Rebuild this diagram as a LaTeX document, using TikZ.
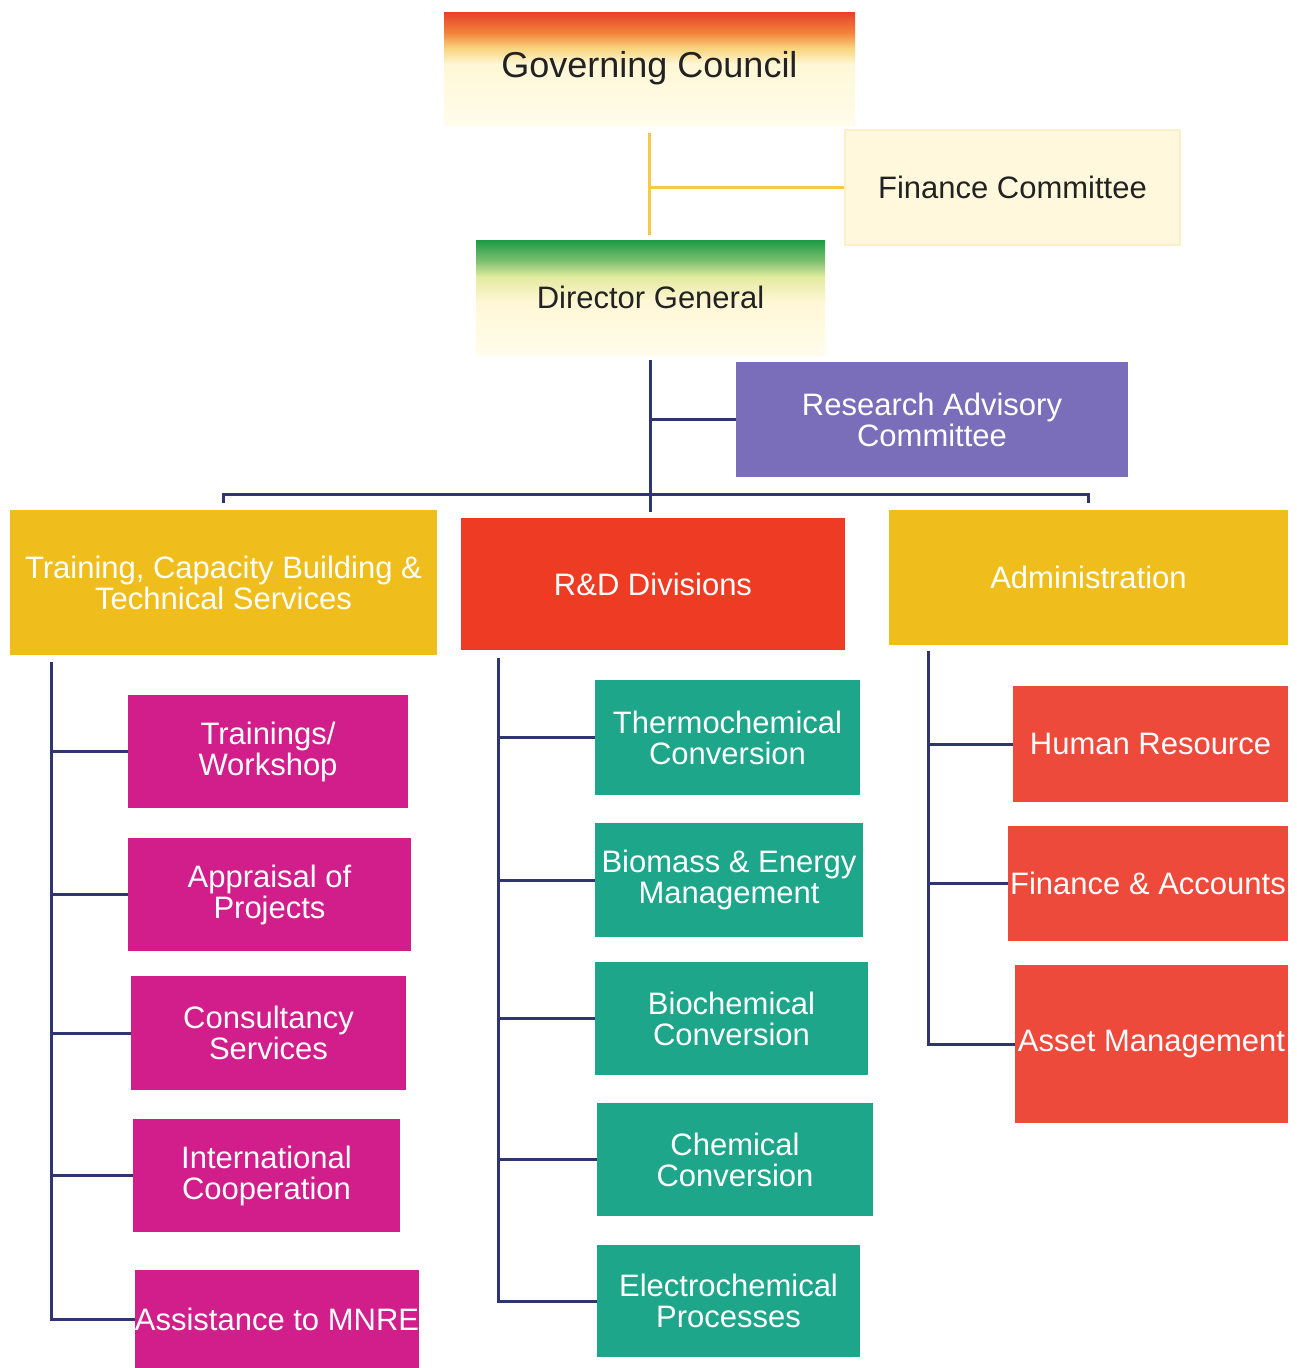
\documentclass[tikz,border=0pt]{standalone}
\usepackage{fontspec}
\setmainfont{Liberation Sans}
\usetikzlibrary{calc}
\definecolor{gold}{HTML}{F0BE1C}
\definecolor{rdred}{HTML}{EE3B23}
\definecolor{adred}{HTML}{EE4A3B}
\definecolor{mag}{HTML}{D11E8B}
\definecolor{tealc}{HTML}{1DA68A}
\definecolor{purp}{HTML}{7A6DBA}
\definecolor{navy}{HTML}{30356F}
\definecolor{ylw}{HTML}{F6C843}
\definecolor{cream}{HTML}{FFF7D6}
\definecolor{creamlt}{HTML}{FFFCEB}
\definecolor{fcfill}{HTML}{FFF8DC}
\definecolor{fcedge}{HTML}{FBF0C8}
\definecolor{txtdark}{HTML}{222222}
\definecolor{gcred}{HTML}{E8402A}
\definecolor{gcorg}{HTML}{F2823A}
\definecolor{gcyel}{HTML}{FAD47E}
\definecolor{dggreen}{HTML}{1C9A44}
\definecolor{dglg}{HTML}{7CC070}
\definecolor{dgyg}{HTML}{E3EBA0}
\pgfdeclareverticalshading{gcshade}{100bp}{color(0bp)=(creamlt); color(25bp)=(creamlt); color(52bp)=(cream); color(59bp)=(gcyel); color(66bp)=(gcorg); color(75bp)=(gcred); color(100bp)=(gcred)}
\pgfdeclareverticalshading{dgshade}{100bp}{color(0bp)=(creamlt); color(25bp)=(creamlt); color(48bp)=(cream); color(59bp)=(dgyg); color(66bp)=(dglg); color(75bp)=(dggreen); color(100bp)=(dggreen)}
\tikzset{
  box/.style={rectangle, inner sep=0pt, align=center, text=white,
    font=\fontsize{31}{31}\selectfont},
  topbox/.style={box, text=txtdark},
  dims/.style 2 args={minimum width=#1pt, minimum height=#2pt},
  conn/.style={draw=navy, line width=3pt},
  yconn/.style={draw=ylw, line width=2.5pt}
}
\begin{document}
\begin{tikzpicture}[x=1pt,y=-1pt]
\fill[white] (0,0) rectangle (1297,1368);
\useasboundingbox (0,0) rectangle (1297,1368);

% top level
\node[topbox, dims={411}{113}, shade, shading=gcshade, font=\fontsize{36}{36}\selectfont] (gc) at (649.5,68.5) {Governing Council};
\node[topbox, dims={335}{115}, fill=fcfill, draw=fcedge, line width=2pt] (fc) at (1012.5,187.5) {Finance Committee};
\node[topbox, dims={349}{115}, shade, shading=dgshade] (dg) at (650.5,297.5) {Director General};
\node[box, dims={392}{115}, fill=purp] (rac) at (932,419.5) {Research Advisory\\Committee};

% second level
\node[box, dims={427}{145}, fill=gold] (tcs) at (223.5,582.5) {Training, Capacity Building \&\\Technical Services};
\node[box, dims={384}{132}, fill=rdred] (rd) at (653,584) {R\&D Divisions};
\node[box, dims={399}{135}, fill=gold] (adm) at (1088.5,577.5) {Administration};

% left column
\node[box, dims={280}{113}, fill=mag] (tw) at (268,751.5) {Trainings/\\Workshop};
\node[box, dims={283}{113}, fill=mag] (ap) at (269.5,894.5) {Appraisal of\\Projects};
\node[box, dims={275}{114}, fill=mag] (cs) at (268.5,1033) {Consultancy\\Services};
\node[box, dims={267}{113}, fill=mag] (ic) at (266.5,1175.5) {International\\Cooperation};
\node[box, dims={284}{98}, fill=mag] (am) at (277,1319) {Assistance to MNRE};

% middle column
\node[box, dims={265}{115}, fill=tealc] (th) at (727.5,737.5) {Thermochemical\\Conversion};
\node[box, dims={268}{114}, fill=tealc] (bm) at (729,880) {Biomass \& Energy\\Management};
\node[box, dims={273}{113}, fill=tealc] (bc) at (731.5,1018.5) {Biochemical\\Conversion};
\node[box, dims={276}{113}, fill=tealc] (ch) at (735,1159.5) {Chemical\\Conversion};
\node[box, dims={263}{112}, fill=tealc] (el) at (728.5,1301) {Electrochemical\\Processes};

% right column
\node[box, dims={275}{116}, fill=adred] (hr) at (1150.5,744) {Human Resource};
\node[box, dims={280}{115}, fill=adred] (fa) at (1148,883.5) {Finance \& Accounts};
\node[box, dims={273}{158}, fill=adred] (as) at (1151.5,1044) {Asset Management};

% yellow connectors
\draw[yconn] ([yshift=-8]gc.south) -- ([yshift=5]gc.south |- dg.north);
\draw[yconn] (gc.south |- fc.west) -- (fc.west);

% DG trunk and bar
\coordinate (bar) at (651,494);
\draw[conn] ([yshift=-5]dg.south) -- ([yshift=6]dg.south |- rd.north);
\draw[conn] (dg.south |- rac.west) -- (rac.west);
\draw[conn] ($(tcs.north)+(0,-7)$) |- (bar) -| ($(adm.north)+(0,-7)$);

% left trunk
\coordinate (lt) at (51,662);
\draw[conn] (lt) -- (lt |- am.west) -- (am.west);
\foreach \n in {tw,ap,cs,ic} \draw[conn] (lt |- \n.west) -- (\n.west);

% middle trunk
\coordinate (mt) at (498,658);
\draw[conn] (mt) -- (mt |- el.west) -- (el.west);
\foreach \n in {th,bm,bc,ch} \draw[conn] (mt |- \n.west) -- (\n.west);

% right trunk
\coordinate (rt) at (928,651);
\draw[conn] (rt) -- (rt |- as.west) -- (as.west);
\foreach \n in {hr,fa} \draw[conn] (rt |- \n.west) -- (\n.west);
\end{tikzpicture}
\end{document}
